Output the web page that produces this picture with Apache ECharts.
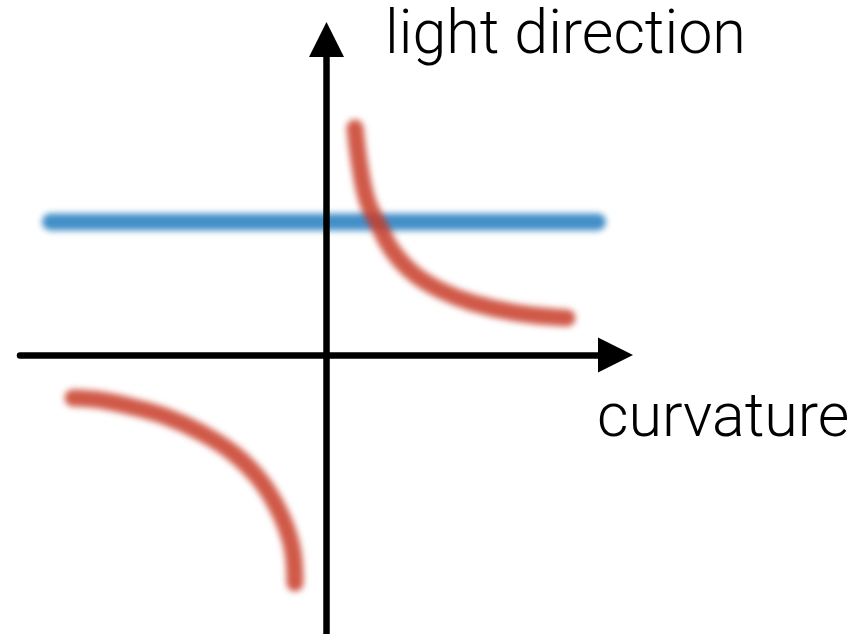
<!DOCTYPE html>
<html>
<head>
<meta charset="utf-8">
<title>light direction vs curvature</title>
<script src="https://cdn.jsdelivr.net/npm/echarts@6/dist/echarts.min.js"></script>
<style>
html,body{margin:0;padding:0;background:#fff;}
#wrap{position:relative;width:858px;height:634px;}
#curves,#axes{position:absolute;left:0;top:0;width:858px;height:634px;}
#curves{filter:blur(3px);}
</style>
</head>
<body>
<div id="wrap"><div id="curves"></div><div id="axes"></div></div>
<script>
// flat blue line
var blueX = [-27.6, 27.1];
var blueY = [13.3, 13.3];
// red curve, upper right branch
var redUpX = [2.85, 3.35, 4.05, 5.05, 6.55, 8.65, 11.35, 14.65, 19.05, 24.05];
var redUpY = [22.7, 18.8, 15.5, 13.3, 10.5, 8.2, 6.5, 5.2, 4.2, 3.7];
// red curve, lower left branch
var redLowX = [-25.35, -22.65, -19.35, -15.95, -12.65, -9.35, -6.65, -4.65, -3.45, -3.15];
var redLowY = [-4.3, -4.5, -5.2, -6.2, -7.7, -9.8, -12.5, -15.8, -19.2, -22.8];

var xRange = [-30.65, 28.9];
var yRange = [-27.9, 31.55];
var xName = 'curvature';
var yName = 'light direction';

var curvesChart = echarts.init(document.getElementById('curves'));
var axesChart = echarts.init(document.getElementById('axes'));

function toPairs(xs, ys){
	var out = [];
	for(var i = 0; i < xs.length; i++){
		out.push([xs[i], ys[i]]);
	}
	return out;
}
function makeAxis(range, show){
	return {
		type: 'value',
		min: range[0],
		max: range[1],
		axisLine: {
			show: show,
			onZero: true,
			symbol: ['none', 'triangle'],
			symbolSize: [35, 35],
			lineStyle: {color: '#000', width: 6.5}
		},
		axisTick: {show: false},
		axisLabel: {show: false},
		splitLine: {show: false}
	};
}
function lineSeries(data, color, opacity, smooth){
	return {
		type: 'line',
		data: data,
		symbol: 'none',
		smooth: smooth,
		silent: true,
		lineStyle: {color: color, width: 17, opacity: opacity, cap: 'round', join: 'round'}
	};
}
var grid = {left: 20, right: 242.5, top: 39.5, bottom: 0};

curvesChart.setOption({
	animation: false,
	grid: grid,
	xAxis: makeAxis(xRange, false),
	yAxis: makeAxis(yRange, false),
	series: [
		lineSeries(toPairs(blueX, blueY), 'rgb(66,143,200)', 1, false),
		lineSeries(toPairs(redUpX, redUpY), 'rgb(200,60,40)', 0.85, 0.4),
		lineSeries(toPairs(redLowX, redLowY), 'rgb(200,60,40)', 0.85, 0.4)
	]
});

axesChart.setOption({
	animation: false,
	grid: grid,
	xAxis: makeAxis(xRange, true),
	yAxis: makeAxis(yRange, true),
	graphic: [
		{type: 'text', left: 385, top: 7, style: {text: yName, font: '300 61px Roboto', fill: '#000'}},
		{type: 'text', left: 597, top: 390, style: {text: xName, font: '300 61px Roboto', fill: '#000'}}
	],
	series: []
});
</script>
</body>
</html>
